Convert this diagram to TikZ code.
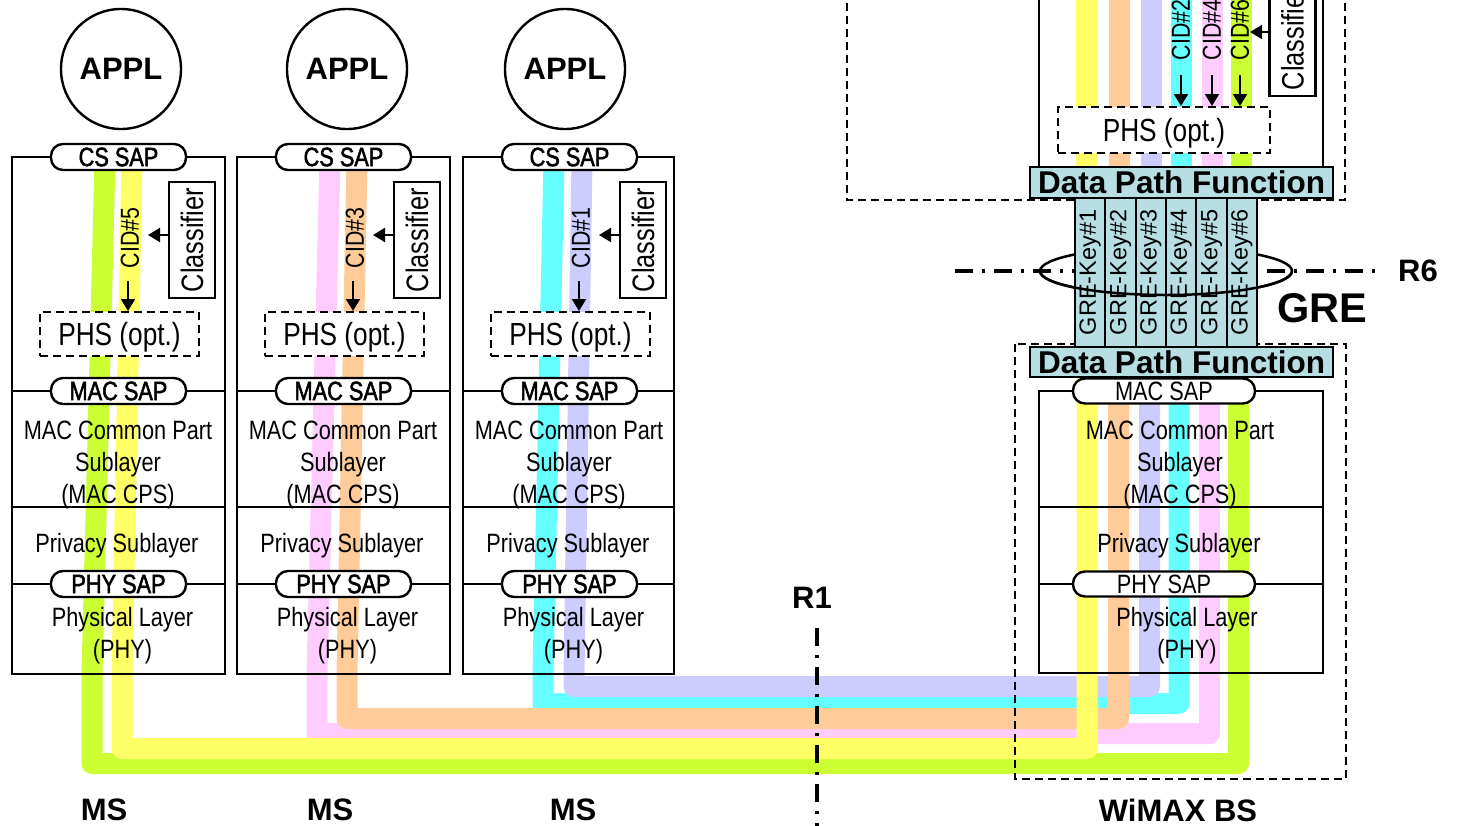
\documentclass[tikz,border=0pt]{standalone}
\usepackage{fontspec}
\setmainfont{Liberation Sans}
\newfontfamily\narrow[FakeStretch=0.82]{Liberation Sans}
\newfontfamily\narrowb[FakeStretch=0.82,FakeBold=2]{Liberation Sans}
\usetikzlibrary{arrows.meta}
\definecolor{cgreen}{HTML}{CCFF33}
\definecolor{cyellow}{HTML}{FFFF66}
\definecolor{cpink}{HTML}{FFCCFF}
\definecolor{corange}{HTML}{FFCC99}
\definecolor{ccyan}{HTML}{66FFFF}
\definecolor{clav}{HTML}{CCCCFF}
\definecolor{cdpf}{HTML}{B7DEE2}
\newcommand\fsz[1]{\fontsize{#1}{#1}\selectfont}
\begin{document}
\begin{tikzpicture}[x=1pt,y=-1pt,
  lay/.style={draw, line width=2.6pt, inner sep=0pt, outer sep=0pt},
  band/.style={line width=21pt, line join=round},
  pill/.style={draw, fill=white, line width=2.4pt, rounded corners=12pt, minimum height=26, inner sep=0pt, font=\narrowb\fsz{26.5}},
  bpill/.style={pill, font=\narrow\fsz{26.5}, minimum width=182, minimum height=25},
  phsbox/.style={draw, fill=white, dash pattern=on 8pt off 5pt, line width=2pt, minimum width=159, minimum height=44, inner sep=0pt, text height=23pt, text depth=0pt, font=\narrow\fsz{32}},
  clsbox/.style={draw, fill=white, line width=2.4pt, rotate=90, minimum width=116, minimum height=46, inner sep=0pt, font=\narrow\fsz{31}},
  cidlab/.style={rotate=90, inner sep=0pt, font=\narrow\fsz{26}},
  arr/.style={-{Triangle[length=12pt,width=14pt]}, line width=2pt},
  ltext/.style={align=center, inner sep=0pt, font=\narrow\fontsize{26.5}{32}\selectfont},
  biglab/.style={font=\bfseries\fsz{31}, inner sep=0pt},
  dpfbar/.style={draw, fill=cdpf, line width=2pt, minimum width=303, minimum height=31, inner sep=0pt, font=\bfseries\fsz{31.5}},
  grekey/.style={draw, fill=cdpf, line width=2pt, rotate=90, minimum width=149, minimum height=30.33, inner sep=0pt, font=\fsz{23.5}},
  dashbox/.style={draw, dash pattern=on 8pt off 5pt, line width=2pt},
  refline/.style={line width=3.5pt, dash pattern=on 18pt off 9pt on 3pt off 9pt},
]
\useasboundingbox (0,0) rectangle (1459,825);
\clip (0,0) rectangle (1459,825);

% R6 reference line and back of the GRE ellipse
\coordinate (r6a) at (955,271);
\coordinate (r6b) at (1383,271);
\draw[refline] (r6a) -- (r6b);
\draw[line width=2.5pt] (1166,271) ellipse[x radius=126pt, y radius=24pt];

% service flow bands
\draw[band, cgreen] (105,160) -- (92,674) -- (92,763.5) -- (1238.5,763.5) -- (1238.5,378);
\draw[band, cpink] (330,160) -- (317,674) -- (317,733.5) -- (1209.5,733.5) -- (1209.5,378);
\draw[band, ccyan] (554,160) -- (543,674) -- (543,703.5) -- (1179,703.5) -- (1179,378);
\draw[band, clav] (582,160) -- (574,674) -- (574,686.5) -- (1149.5,686.5) -- (1149.5,378);
\draw[band, corange] (357,160) -- (347,674) -- (347,718.5) -- (1118.5,718.5) -- (1118.5,378);
\draw[band, cyellow] (132,160) -- (122,674) -- (122,748.5) -- (1087,748.5) -- (1087,378);
\foreach \c/\x in {cyellow/1086, corange/1119, clav/1151.5, ccyan/1181, cpink/1212.5, cgreen/1241}
  \draw[band, \c] (\x,-5) -- (\x,167);

% dashed ASN / BS outlines
\draw[dashbox] (847,-10) rectangle (1345,200);
\draw[dashbox] (1015,344) rectangle (1346,779);

% MS stacks
\foreach \i/\xl/\w/\cx/\cid/\mx in {1/12/213/121/5/104, 2/237/213/347/3/330, 3/463/211/565/1/573} {
  \node[draw, circle, line width=2.4pt, minimum size=120, inner sep=0pt, font=\bfseries\fsz{31}] (appl\i) at (\cx,69) {APPL};
  \node[lay, minimum width=\w, minimum height=517, anchor=north west] (ms\i) at (\xl,157) {};
  \draw[line width=2.6pt] (ms\i.west |- 0,391) -- (ms\i.east |- 0,391);
  \draw[line width=2.6pt] (ms\i.west |- 0,507) -- (ms\i.east |- 0,507);
  \draw[line width=2.6pt] (ms\i.west |- 0,584) -- (ms\i.east |- 0,584);
  \node[ltext] (mac\i) at (\xl+106,465) {MAC Common Part\\Sublayer\\(MAC CPS)};
  \node[ltext] (prv\i) at (\xl+105,546) {Privacy Sublayer};
  \node[ltext] (phy\i) at (\xl+110.5,636) {Physical Layer\\(PHY)};
  \node[pill, minimum width=135] (cs\i) at (\xl+106.5,157) {CS SAP};
  \node[pill, minimum width=135] (macsap\i) at (\xl+106.5,391) {MAC SAP};
  \node[pill, minimum width=135] (physap\i) at (\xl+106.5,584) {PHY SAP};
  \node[phsbox] (phs\i) at (\xl+107.5,334) {PHS (opt.)};
  \node[clsbox] (cls\i) at (\xl+180,240) {Classifier};
  \node[cidlab] (cid\i) at (\xl+118,238) {CID\#\cid};
  \coordinate (ca\i) at (\xl+116,281);
  \draw[arr] (ca\i) -- (ca\i |- phs\i.north);
  \coordinate (ct\i) at (\xl+136,235);
  \draw[arr] (cls\i.north |- ct\i) -- (ct\i);
  \node[biglab] (msl\i) at (\mx,810) {MS};
}

% upper (ASN side) stack
\node[lay, minimum width=284, minimum height=220, anchor=south west] (bsu) at (1039,167) {};
\node[phsbox, minimum width=212, minimum height=46] (phsu) at (1164,130) {PHS (opt.)};
\node[clsbox] (clsu) at (1292.5,38) {Classifier};
\foreach \n/\x in {2/1181, 4/1212, 6/1240} {
  \node[cidlab] (cidu\n) at (\x,30) {CID\#\n};
  \coordinate (cau\n) at (\x,75);
  \draw[arr] (cau\n) -- (cau\n |- phsu.north);
}
\coordinate (ctu) at (1250,32);
\draw[arr] (clsu.north |- ctu) -- (ctu);

% lower BS stack
\node[lay, minimum width=284, minimum height=282, anchor=north west] (bs) at (1039,391) {};
\draw[line width=2.6pt] (bs.west |- 0,507) -- (bs.east |- 0,507);
\draw[line width=2.6pt] (bs.west |- 0,584) -- (bs.east |- 0,584);
\node[ltext] (bsmac) at (1180,465) {MAC Common Part\\Sublayer\\(MAC CPS)};
\node[ltext] (bsprv) at (1179,546) {Privacy Sublayer};
\node[ltext] (bsphy) at (1187,636) {Physical Layer\\(PHY)};
\node[bpill] (bsmacsap) at (1164,391) {MAC SAP};
\node[bpill] (bsphysap) at (1164,584) {PHY SAP};

% data path functions and GRE tunnels
\node[dpfbar] (dpfu) at (1181.5,182.5) {Data Path Function};
\node[dpfbar, minimum height=30] (dpfl) at (1181.5,362) {Data Path Function};
\foreach \k in {1,...,6}
  \node[grekey] (gk\k) at ({1075+(\k-0.5)*30.33},272.5) {GRE-Key\#\k};
\draw[line width=2.5pt] (1040,271) arc[start angle=180, end angle=360, x radius=126pt, y radius=24pt];
\node[biglab] (r6) at (1418,271) {R6};
\node[font=\bfseries\fsz{41.5}, inner sep=0pt] (gre) at (1322,308) {GRE};

% R1 reference
\node[biglab] (r1) at (812,598) {R1};
\coordinate (r1a) at (817,628);
\coordinate (r1b) at (817,830);
\draw[refline] (r1a) -- (r1b);
\node[biglab] (wimax) at (1178,810) {WiMAX BS};
\end{tikzpicture}
\end{document}
